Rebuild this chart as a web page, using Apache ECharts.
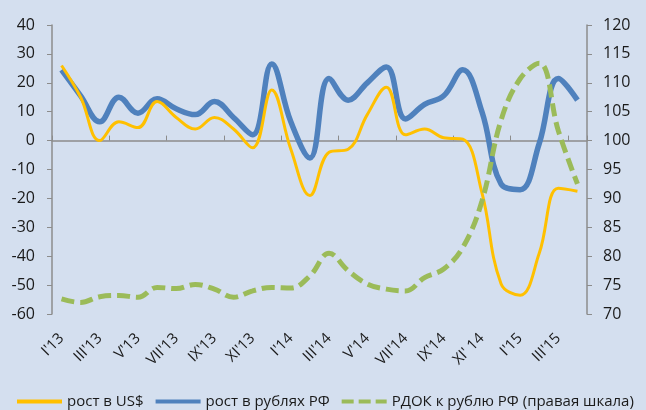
<!DOCTYPE html>
<html>
<head>
<meta charset="utf-8">
<script src="https://cdn.jsdelivr.net/npm/echarts@6/dist/echarts.min.js"></script>
<style>
html, body { margin: 0; padding: 0; background: #d4dfef; }
#chart { width: 646px; height: 410px; }
</style>
</head>
<body>
<div id="chart"></div>
<script>
// months I'13 .. IV'15
var categories = ["I'13", "II'13", "III'13", "IV'13", "V'13", "VI'13", "VII'13", "VIII'13", "IX'13", "X'13", "XI'13", "XII'13",
  "I'14", "II'14", "III'14", "IV'14", "V'14", "VI'14", "VII'14", "VIII'14", "IX'14", "X'14", "XI' 14", "XII'14",
  "I'15", "II'15", "III'15", "IV'15"];

var usd = [26, 15, 0, 6.5, 4.5, 13.5, 8, 4, 8, 4, -2.5, 17.5, -3, -19, -4, -3, 9, 18.5, 2, 4, 1, 0.5, -18, -49.5, -53.5, -39, -16.5, -17.5];
var rub = [24.5, 15.5, 6.5, 15, 9.5, 14.5, 11, 9, 13.5, 8, 2, 26.5, 6.5, -6, 21.5, 14, 20, 25.5, 7.5, 12.5, 15.5, 24.5, 10, -15, -17, -1, 21.5, 14];
var rdok = [72.6, 72, 73, 73.2, 72.9, 74.6, 74.4, 75.1, 74.3, 72.9, 74, 74.6, 74.5, 76.6, 80.5, 77.5, 75.2, 74.3, 74, 76.3, 77.8, 81.5, 89.5, 103.5, 110.7, 113.4, 101.7, 92.5];

var leftTicks = { min: -60, max: 40, interval: 10 };
var rightTicks = { min: 70, max: 120, interval: 5 };

var fontFam = 'Open Sans';
var axisGrey = '#8c8c8c';

// legend icons: plain bar, and dashed bar for the right-scale series
var solidIcon = 'path://M0,0h45v4h-45z';
var dashIcon = 'path://M0,0h12v4h-12z M17,0h12v4h-12z M34,0h11v4h-11z';

var chart = echarts.init(document.getElementById('chart'));
chart.setOption({
  backgroundColor: '#d4dfef',
  animation: false,
  textStyle: { fontFamily: fontFam },
  grid: { left: 52, right: 59, top: 25, bottom: 96 },
  legend: {
    data: [
      { name: 'рост в US$', icon: solidIcon },
      { name: 'рост в рублях РФ', icon: solidIcon },
      { name: 'РДОК к рублю РФ (правая шкала)', icon: dashIcon }
    ],
    left: 12,
    top: 389,
    itemWidth: 45,
    itemHeight: 4,
    itemGap: 12,
    textStyle: { fontSize: 15, color: '#1a1a1a', fontFamily: fontFam }
  },
  xAxis: [
    {
      // labels at the bottom
      type: 'category',
      data: categories,
      position: 'bottom',
      axisLine: { show: false, onZero: false },
      axisTick: { show: false },
      axisLabel: { interval: 1, rotate: 45, margin: 22, fontSize: 15, color: '#1a1a1a' }
    },
    {
      // line + ticks at zero
      type: 'category',
      data: categories,
      axisLine: { show: true, onZero: true, onZeroAxisIndex: 0, lineStyle: { color: axisGrey, width: 1.5 } },
      axisTick: { show: true, inside: false, length: 5, lineStyle: { color: axisGrey } },
      axisLabel: { show: false }
    }
  ],
  yAxis: [
    {
      type: 'value',
      min: leftTicks.min, max: leftTicks.max, interval: leftTicks.interval,
      axisLine: { show: true, lineStyle: { color: axisGrey, width: 1.5 } },
      axisTick: { show: true, length: 5, lineStyle: { color: axisGrey } },
      splitLine: { show: false },
      axisLabel: { fontSize: 16, color: '#1a1a1a', margin: 17 }
    },
    {
      type: 'value',
      min: rightTicks.min, max: rightTicks.max, interval: rightTicks.interval,
      axisLine: { show: true, lineStyle: { color: axisGrey, width: 1.5 } },
      axisTick: { show: true, length: 5, lineStyle: { color: axisGrey } },
      splitLine: { show: false },
      axisLabel: { fontSize: 16, color: '#1a1a1a', margin: 16 }
    }
  ],
  series: [
    {
      name: 'рост в рублях РФ',
      type: 'line',
      data: rub,
      smooth: 0.4,
      symbol: 'none',
      z: 2,
      lineStyle: { color: '#4f81bd', width: 5.5 },
      itemStyle: { color: '#4f81bd' }
    },
    {
      name: 'рост в US$',
      type: 'line',
      data: usd,
      smooth: 0.4,
      symbol: 'none',
      z: 3,
      lineStyle: { color: '#ffc000', width: 3 },
      itemStyle: { color: '#ffc000' }
    },
    {
      name: 'РДОК к рублю РФ (правая шкала)',
      type: 'line',
      yAxisIndex: 1,
      data: rdok,
      smooth: 0.4,
      symbol: 'none',
      z: 4,
      lineStyle: { color: '#9bbb59', width: 5, type: [13, 6] },
      itemStyle: { color: '#9bbb59' }
    }
  ]
});
</script>
</body>
</html>
